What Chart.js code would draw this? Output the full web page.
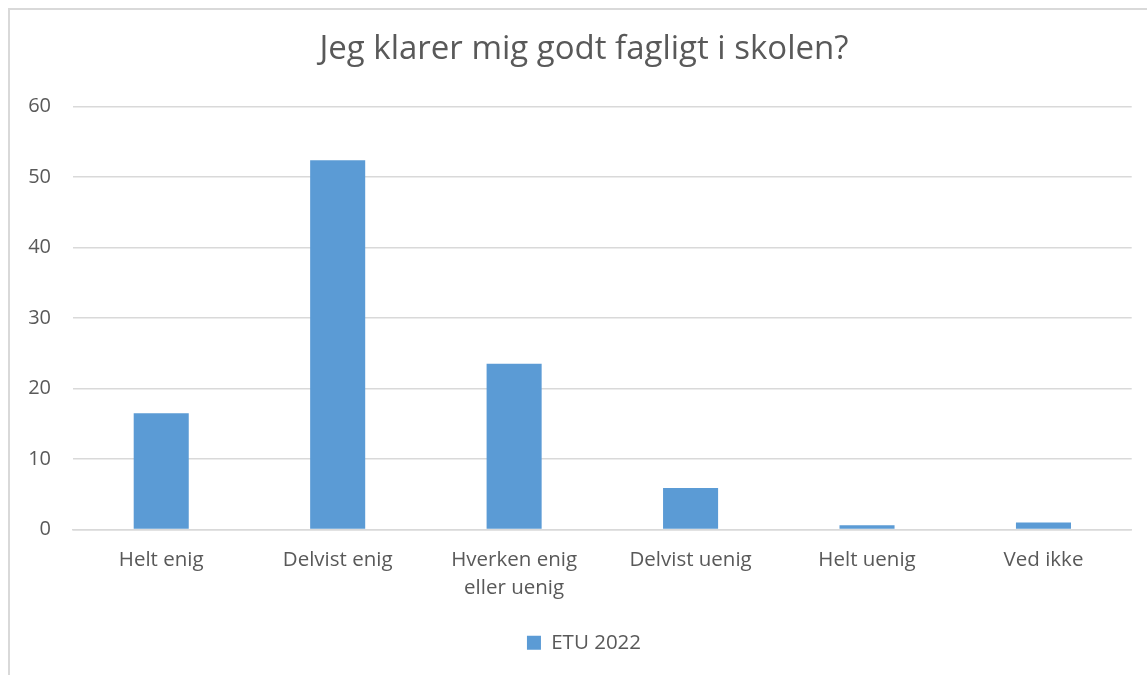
<!DOCTYPE html>
<html>
<head>
<meta charset="utf-8">
<script src="https://cdn.jsdelivr.net/npm/chart.js@4"></script>
<style>
  html, body { margin: 0; padding: 0; background: #fff; overflow: hidden; width: 1147px; height: 675px; }
  #frame { position: absolute; left: 8px; top: 8px; width: 1139px; height: 667px;
           border-top: 2px solid #d9d9d9; border-left: 2px solid #d9d9d9; box-sizing: border-box; }
  #wrap { position: absolute; left: 0; top: 0; width: 1168px; height: 675px; }
</style>
</head>
<body>
<div id="frame"></div>
<div id="wrap"><canvas id="chart"></canvas></div>
<script>
// Data
const categories = ['Helt enig', 'Delvist enig', ['Hverken enig', 'eller uenig'], 'Delvist uenig', 'Helt uenig', 'Ved ikke'];
const etu2022 = [16.5, 52.4, 23.5, 5.9, 0.6, 1.0];
const yTicks = [0, 10, 20, 30, 40, 50, 60];

const textColor = '#595959';
const barColor = '#5b9bd5';
const font = "'Open Sans', 'Noto Sans', sans-serif";

const ctx = document.getElementById('chart').getContext('2d');
new Chart(ctx, {
  type: 'bar',
  data: {
    labels: categories,
    datasets: [{
      label: 'ETU 2022',
      data: etu2022,
      yAxisID: 'y',
      backgroundColor: barColor,
      borderWidth: 0,
      barPercentage: 0.312,
      categoryPercentage: 1
    }]
  },
  options: {
    responsive: true,
    maintainAspectRatio: false,
    animation: false,
    layout: { padding: { left: 0, right: 0, top: 0, bottom: 12 } },
    scales: {
      y: {
        min: 0,
        max: 60,
        afterBuildTicks: (scale) => { scale.ticks = yTicks.map(v => ({ value: v })); },
        afterFit: (scale) => { scale.width = 73; },
        grid: { color: '#d9d9d9', lineWidth: 1.5, drawTicks: false },
        border: { display: false },
        ticks: { color: textColor, font: { family: font, size: 20 }, padding: 22 }
      },
      // empty right-hand spacer so the title and legend sit where they do in the original
      spacer: {
        type: 'linear',
        position: 'right',
        min: 0,
        max: 60,
        afterFit: (scale) => { scale.width = 36.3; },
        grid: { display: false, drawTicks: false },
        border: { display: false },
        ticks: { display: false }
      },
      x: {
        afterFit: (scale) => { scale.height = 93; },
        grid: { display: false, drawTicks: false },
        border: { color: '#d9d9d9', width: 1.5 },
        ticks: { color: textColor, font: { family: font, size: 20.5, lineHeight: 1.36 }, padding: 17, maxRotation: 0, autoSkip: false }
      }
    },
    plugins: {
      title: {
        display: true,
        text: 'Jeg klarer mig godt fagligt i skolen?',
        color: textColor,
        font: { family: font, size: 33, weight: 'normal', lineHeight: 1.2 },
        padding: { top: 30, bottom: 37 }
      },
      legend: {
        display: true,
        position: 'bottom',
        labels: { color: textColor, font: { family: font, size: 20.5 }, boxWidth: 14, boxHeight: 14, padding: 10 }
      },
      tooltip: { enabled: false }
    }
  }
});
</script>
</body>
</html>
